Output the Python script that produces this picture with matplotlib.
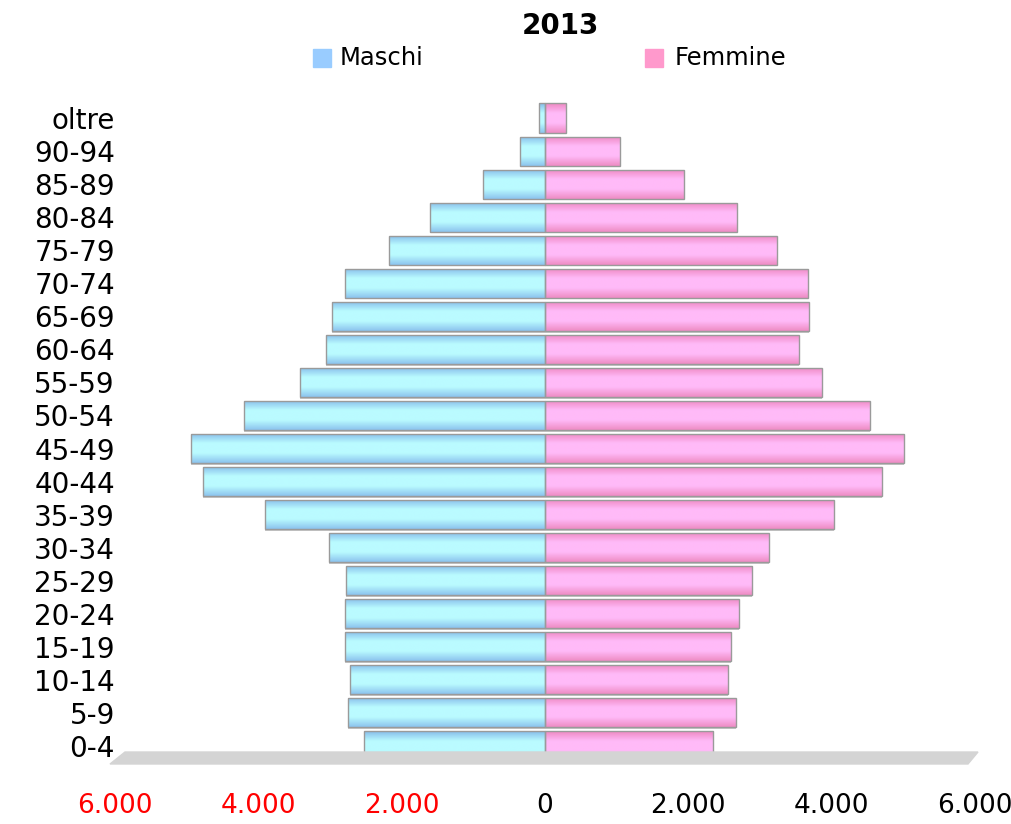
import numpy as np
import matplotlib
matplotlib.use('Agg')
import matplotlib.pyplot as plt
from matplotlib.colors import LinearSegmentedColormap
from matplotlib.patches import Polygon, Rectangle

#   Age classes, from the bottom up
classi = ['0-4', '5-9', '10-14', '15-19', '20-24', '25-29', '30-34', '35-39',
          '40-44', '45-49', '50-54', '55-59', '60-64', '65-69', '70-74',
          '75-79', '80-84', '85-89', '90-94', 'oltre']
#   Values
maschi = [2530, 2750, 2720, 2790, 2790, 2775, 3010, 3905,
          4770, 4940, 4200, 3420, 3055, 2970, 2790,
          2175, 1600, 865, 350, 85]
femmine = [2345, 2665, 2550, 2595, 2705, 2890, 3125, 4030,
           4700, 5010, 4530, 3865, 3540, 3680, 3670,
           3235, 2680, 1940, 1045, 290]

xticks = [-6000, -4000, -2000, 0, 2000, 4000, 6000]
xlabels = ['6.000', '4.000', '2.000', '0', '2.000', '4.000', '6.000']

plt.rcParams['font.family'] = ['DejaVu Sans']

W, H = 1012, 824
fig = plt.figure(figsize=(W / 100, H / 100), dpi=100)
ax = fig.add_axes([115 / W, 1 - 762.5 / H, 860 / W, 661 / H])

cm_m = LinearSegmentedColormap.from_list('m', ['#86bcea', '#bafbff', '#bafbff', '#8cc4ee'])
cm_f = LinearSegmentedColormap.from_list('f', ['#ee88c2', '#ffbaf8', '#ffbaf8', '#ee8cc4'])
grad = np.linspace(0, 1, 64).reshape(-1, 1)

y = np.arange(len(classi))
hb = 0.88


def draw(vals, cmap, sign):
    bars = ax.barh(y, sign * np.array(vals), height=hb, color='none',
                   edgecolor='#9a9a9a', linewidth=1.0, zorder=3)
    for b in bars:
        x0 = b.get_x()
        x1 = x0 + b.get_width()
        y0 = b.get_y()
        y1 = y0 + b.get_height()
        im = ax.imshow(grad, extent=[min(x0, x1), max(x0, x1), y0, y1],
                       aspect='auto', cmap=cmap, origin='upper', zorder=2,
                       interpolation='bilinear')
        im.set_clip_path(b)
        #   gray shadow under each bar
        ax.add_patch(Rectangle((min(x0, x1), y0 - 0.05), abs(x1 - x0), 0.05,
                               color='#c8c8c8', zorder=1, linewidth=0))


draw(maschi, cm_m, -1)
draw(femmine, cm_f, 1)

ax.set_xlim(-6000, 6000)
ax.set_ylim(-0.5, len(classi) - 0.5)
ax.set_yticks(y)
ax.set_yticklabels(classi, fontsize=20)
ax.set_xticks(xticks)
ax.set_xticklabels(xlabels, fontsize=19)
for t, v in zip(ax.get_xticklabels(), xticks):
    if v < 0:
        t.set_color('#ff0000')
ax.tick_params(axis='y', length=0, pad=0)
ax.tick_params(axis='x', length=0, pad=22)
for s in ax.spines.values():
    s.set_visible(False)

#   floor
floor = Polygon([[110 / W, 1 - 764 / H], [125 / W, 1 - 752 / H],
                 [978 / W, 1 - 752 / H], [968 / W, 1 - 764 / H]],
                closed=True, transform=fig.transFigure, color='#d4d4d4', zorder=0)
fig.patches.append(floor)

#   title and legend
fig.text(560 / W, 1 - 26 / H, '2013', ha='center', va='center',
         fontsize=20, fontweight='bold')
fig.patches.append(Rectangle((313 / W, 1 - 67 / H), 18 / W, 18 / H,
                             transform=fig.transFigure, color='#99ccff'))
fig.text(340 / W, 1 - 58 / H, 'Maschi', ha='left', va='center', fontsize=17.5)
fig.patches.append(Rectangle((645 / W, 1 - 67 / H), 18 / W, 18 / H,
                             transform=fig.transFigure, color='#ff99cc'))
fig.text(675 / W, 1 - 58 / H, 'Femmine', ha='left', va='center', fontsize=17.5)

fig.savefig('out.png', dpi=100)
